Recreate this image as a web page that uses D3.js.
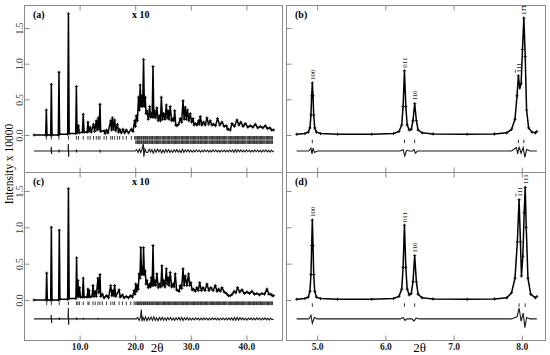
<!DOCTYPE html>
<html lang="en">
<head>
<meta charset="UTF-8" />
<title>Rietveld plots</title>
<script src="https://d3js.org/d3.v7.min.js"></script>
<style>
  body { margin: 0; background: #fff; }
  svg { display: block; font-family: "Liberation Serif", "DejaVu Serif", serif; }
</style>
</head>
<body>
<div id="chart"></div>
<script>
const obsA = [[1.8,0],[3.9,0],[4.02,0.35],[4.14,0],[4.8,0],[4.92,0.71],[5.04,0],[6.17,0],[6.29,0.88],[6.41,0.01],
  [7.85,0.01],[7.99,1.70],[8.13,0.02],[9.3,0.02],[9.42,0.68],[9.55,0.03],[9.8,0.13],[9.95,0.03],[10.5,0.04],[10.66,0.29],
  [10.8,0.04],[11.35,0.04],[11.5,0.18],[11.65,0.05],[11.9,0.11],[12.1,0.04],[12.5,0.15],[12.7,0.05],[13.0,0.20],[13.15,0.07],
  [13.36,0.24],[13.5,0.08],[13.66,0.43],[13.8,0.05],[14.4,0.06],[14.6,0.02],[14.85,0.07],[15.1,0.03],[15.6,0.20],[15.75,0.07],
  [15.9,0.24],[16.1,0.08],[16.3,0.21],[16.5,0.06],[16.8,0.15],[17.0,0.04],[17.2,0.08],[17.5,0.03],[17.8,0.08],[18.1,0.03],
  [18.4,0.07],[18.8,0.03],[19.3,0.08],[19.6,0.05],[19.9,0.20],[20.05,0.12],[20.2,0.27],[20.4,0.2],[20.6,0.53],[20.75,0.35],
  [20.9,0.70],[21.05,0.4],[21.2,0.55],[21.35,0.4],[21.5,1.06],[21.65,0.4],[21.8,0.53],[21.95,0.3],[22.1,0.34],[22.35,0.22],
  [22.6,0.40],[22.75,0.25],[22.9,0.30],[23.05,0.25],[23.2,0.96],[23.35,0.25],[23.5,0.34],[23.7,0.24],[23.9,0.38],[24.15,0.2],
  [24.4,0.27],[24.55,0.2],[24.7,0.53],[24.9,0.22],[25.1,0.30],[25.35,0.22],[25.6,0.42],[25.75,0.24],[25.9,0.34],[26.1,0.22],
  [26.3,0.40],[26.55,0.2],[26.8,0.23],[26.95,0.2],[27.1,0.34],[27.3,0.14],[27.5,0.13],[27.8,0.15],[28.1,0.23],[28.35,0.18],
  [28.6,0.48],[28.8,0.22],[29.0,0.39],[29.2,0.22],[29.4,0.35],[29.65,0.2],[29.9,0.30],[30.15,0.18],[30.4,0.23],[30.6,0.14],
  [30.8,0.16],[31.1,0.14],[31.4,0.20],[31.55,0.15],[31.7,0.26],[32.0,0.14],[32.3,0.18],[32.6,0.14],[32.9,0.24],[33.2,0.15],
  [33.5,0.20],[33.8,0.14],[34.1,0.15],[34.45,0.13],[34.8,0.23],[35.2,0.14],[35.6,0.18],[36.0,0.12],[36.4,0.13],[36.6,0.08],
  [36.8,0.08],[37.1,0.07],[37.4,0.16],[37.85,0.12],[38.3,0.21],[38.65,0.14],[39.0,0.18],[39.4,0.12],[39.8,0.16],[40.25,0.11],
  [40.7,0.13],[41.15,0.11],[41.6,0.15],[42.05,0.10],[42.5,0.12],[42.95,0.10],[43.4,0.13],[43.8,0.09],[44.2,0.10],[44.55,0.07],[44.9,0.07]];

const obsC = [[1.8,0],[3.96,0],[4.08,0.37],[4.2,0],[4.8,0],[4.92,1.00],[5.04,0],[6.23,0],[6.35,0.96],[6.47,0.01],
  [7.85,0.01],[7.99,1.53],[8.13,0.02],[9.34,0.02],[9.46,0.58],[9.58,0.05],[9.7,0.27],[9.82,0.05],[10.0,0.17],[10.15,0.04],
  [10.5,0.04],[10.66,0.30],[10.8,0.04],[11.35,0.04],[11.5,0.15],[11.6,0.05],[11.7,0.13],[11.85,0.04],[12.25,0.05],[12.4,0.20],
  [12.6,0.05],[12.8,0.12],[13.0,0.05],[13.3,0.30],[13.45,0.1],[13.66,0.35],[13.8,0.05],[14.1,0.08],[14.4,0.03],[14.85,0.06],
  [15.2,0.03],[15.6,0.20],[15.8,0.06],[16.0,0.13],[16.15,0.06],[16.3,0.20],[16.5,0.05],[17.1,0.14],[17.3,0.04],[17.7,0.07],
  [18.0,0.03],[18.4,0.05],[18.8,0.03],[19.2,0.06],[19.5,0.04],[19.8,0.13],[19.95,0.08],[20.1,0.22],[20.25,0.12],[20.4,0.20],
  [20.55,0.15],[20.7,0.36],[20.85,0.3],[21.0,0.72],[21.15,0.35],[21.3,0.45],[21.4,0.35],[21.5,0.72],[21.65,0.35],[21.8,0.40],
  [21.95,0.22],[22.1,0.27],[22.35,0.17],[22.6,0.22],[22.75,0.18],[22.9,0.31],[23.05,0.2],[23.2,0.75],[23.35,0.2],[23.5,0.27],
  [23.7,0.2],[23.9,0.36],[24.15,0.17],[24.4,0.22],[24.6,0.18],[24.8,0.47],[24.95,0.2],[25.1,0.27],[25.35,0.18],[25.6,0.43],
  [25.75,0.22],[25.9,0.31],[26.1,0.2],[26.3,0.38],[26.55,0.18],[26.8,0.22],[27.0,0.18],[27.2,0.36],[27.45,0.14],[27.7,0.13],
  [27.9,0.12],[28.1,0.20],[28.35,0.16],[28.6,0.43],[28.8,0.2],[29.0,0.33],[29.3,0.2],[29.6,0.36],[29.8,0.2],[30.0,0.24],
  [30.25,0.14],[30.5,0.15],[30.8,0.12],[31.1,0.17],[31.35,0.13],[31.6,0.24],[31.9,0.13],[32.2,0.17],[32.55,0.13],[32.9,0.22],
  [33.25,0.13],[33.6,0.17],[34.0,0.13],[34.4,0.20],[34.7,0.12],[35.0,0.15],[35.3,0.12],[35.6,0.17],[36.0,0.11],[36.4,0.09],
  [36.75,0.06],[37.1,0.06],[37.45,0.08],[37.8,0.12],[38.1,0.1],[38.4,0.17],[38.8,0.11],[39.2,0.14],[39.65,0.09],[40.1,0.11],
  [40.55,0.09],[41.0,0.12],[41.45,0.08],[41.9,0.09],[42.35,0.07],[42.8,0.09],[43.25,0.08],[43.7,0.15],[44.05,0.08],[44.4,0.08],
  [44.65,0.06],[44.9,0.06]];

const obsB = [[4.70,0.01],[4.82,0.02],[4.87,0.04],[4.895,0.10],[4.91,0.28],[4.92,0.55],[4.93,0.73],[4.94,0.55],[4.95,0.28],
  [4.965,0.10],[4.99,0.04],[5.05,0.02],[5.3,0.01],[5.8,0.01],[6.12,0.02],[6.2,0.05],[6.24,0.14],[6.26,0.40],[6.28,0.90],
  [6.30,0.40],[6.32,0.14],[6.35,0.07],[6.38,0.08],[6.405,0.20],[6.43,0.44],[6.455,0.20],[6.48,0.07],[6.54,0.03],[6.7,0.015],
  [7.2,0.01],[7.6,0.015],[7.78,0.03],[7.85,0.08],[7.9,0.22],[7.93,0.55],[7.95,0.83],[7.97,0.66],[7.99,0.72],[8.01,1.2],
  [8.03,1.64],[8.05,1.1],[8.07,0.35],[8.10,0.10],[8.15,0.04],[8.2,0.03],[8.22,0.05]];

const obsD = [[4.70,0.01],[4.82,0.02],[4.87,0.04],[4.895,0.12],[4.91,0.35],[4.92,0.75],[4.93,1.10],[4.94,0.75],[4.95,0.35],
  [4.965,0.12],[4.99,0.04],[5.05,0.02],[5.3,0.01],[5.8,0.01],[6.12,0.02],[6.2,0.05],[6.24,0.15],[6.26,0.45],[6.28,1.03],
  [6.30,0.45],[6.32,0.15],[6.35,0.07],[6.38,0.09],[6.405,0.25],[6.43,0.61],[6.455,0.25],[6.48,0.08],[6.54,0.03],[6.7,0.015],
  [7.2,0.01],[7.6,0.015],[7.78,0.03],[7.85,0.1],[7.9,0.3],[7.935,0.8],[7.96,1.38],[7.98,0.8],[7.995,0.33],[8.015,0.6],
  [8.035,1.2],[8.05,1.55],[8.065,1.0],[8.09,0.3],[8.13,0.08],[8.2,0.03],[8.22,0.05]];

// ---- difference curves (obs - calc) ----
const diffA = [[1.8,0],[4.86,0],[4.9,0.06],[4.95,-0.04],[5.0,0],[6.24,0],[6.28,0.02],[6.32,-0.02],[6.36,0],[7.93,0],
  [7.97,0.1],[8.02,-0.08],[8.06,0],[9.38,0],[9.42,0.02],[9.46,-0.02],[9.5,0],[13.6,0],[13.66,0.015],[13.72,-0.01],[13.78,0],
  [20.0,0],[20.25,0.02],[20.5,-0.02],[20.75,0.025],[21.0,-0.02],[21.25,0.03],[21.45,0.1],[21.55,-0.08],[21.75,0.03],
  [22.0,-0.02],[22.25,-0.02],[22.5,0.025],[22.75,-0.015],[23.0,0.02],[23.25,-0.03],[23.5,0.02],[23.75,-0.018],[24.0,0.025],
  [24.25,-0.012],[24.5,0.02],[24.75,-0.025],[25.0,0.015],[25.25,-0.02],[25.5,0.022],[25.75,-0.015],[26.0,0.02],[26.25,-0.018],
  [26.5,0.012],[26.75,-0.02],[27.0,0.018],[27.25,-0.012],[27.5,0.02],[27.75,-0.015],[28.0,0.012],[28.25,-0.02],[28.5,0.025],
  [28.75,-0.018],[29.0,0.015],[29.25,-0.012],[29.5,0.018],[29.75,-0.015],[30.0,0.012],[30.25,-0.015],[30.5,0.01],
  [30.75,-0.012],[31.0,0.015],[31.25,-0.01],[31.5,0.012],[31.75,-0.015],[32.0,0.01],[32.25,-0.012],[32.5,0.015],[32.75,-0.01],
  [33.0,0.012],[33.25,-0.015],[33.5,0.01],[33.75,-0.012],[34.0,0.015],[34.25,-0.01],[34.5,0.012],[34.75,-0.012],[35.0,0.01],
  [35.25,-0.015],[35.5,0.012],[35.75,-0.01],[36.0,0.012],[36.25,-0.012],[36.5,0.01],[36.75,-0.012],[37.0,0.015],[37.25,-0.012],
  [37.5,0.015],[37.75,-0.018],[38.0,0.02],[38.25,-0.015],[38.5,0.018],[38.75,-0.012],[39.0,0.015],[39.25,-0.012],[39.5,0.01],
  [39.75,-0.012],[40.0,0.015],[40.25,-0.01],[40.5,0.012],[40.75,-0.015],[41.0,0.01],[41.25,-0.012],[41.5,0.015],[41.75,-0.01],
  [42.0,0.012],[42.25,-0.012],[42.5,0.01],[42.75,-0.015],[43.0,0.012],[43.25,-0.01],[43.5,0.015],[43.75,-0.012],[44.0,0.01],
  [44.25,-0.015],[44.5,0.012],[44.75,-0.01],[44.9,0]];

const diffC = [[1.8,0],[4.86,0],[4.9,0.055],[4.95,-0.055],[5.0,0],[6.3,0],[6.34,0.02],[6.38,-0.015],[6.42,0],[7.93,0],
  [7.97,0.15],[8.02,-0.08],[8.06,0],[9.42,0],[9.46,0.02],[9.5,-0.015],[9.55,0],[10.62,0],[10.66,0.015],[10.7,-0.01],[10.75,0],
  [13.25,0],[13.3,0.015],[13.36,-0.01],[13.4,0],[20.2,0],[20.45,0.02],[20.7,-0.02],[20.95,0.03],[21.1,0.13],[21.2,-0.03],
  [21.4,0.025],[21.6,-0.02],[21.85,0.03],[22.1,-0.025],[22.35,0.02],[22.6,-0.015],[22.85,0.025],[23.1,-0.02],[23.35,0.03],
  [23.6,-0.02],[23.85,0.015],[24.1,-0.025],[24.35,0.02],[24.6,-0.015],[24.85,0.022],[25.1,-0.02],[25.35,0.015],[25.6,-0.02],
  [25.85,0.018],[26.1,-0.012],[26.35,0.02],[26.6,-0.018],[26.85,0.012],[27.1,-0.02],[27.35,0.015],[27.6,-0.012],[27.85,0.018],
  [28.1,-0.015],[28.35,0.02],[28.6,-0.022],[28.85,0.015],[29.1,-0.012],[29.35,0.018],[29.6,-0.015],[29.85,0.012],[30.1,-0.015],
  [30.35,0.01],[30.6,-0.012],[30.85,0.015],[31.1,-0.01],[31.35,0.012],[31.6,-0.015],[31.85,0.01],[32.1,-0.012],[32.35,0.015],
  [32.6,-0.01],[32.85,0.012],[33.1,-0.015],[33.35,0.01],[33.6,-0.012],[33.85,0.015],[34.1,-0.01],[34.35,0.012],[34.6,-0.012],
  [34.85,0.01],[35.1,-0.015],[35.35,0.012],[35.6,-0.01],[35.85,0.012],[36.1,-0.012],[36.35,0.01],[36.6,-0.012],[36.85,0.015],
  [37.1,-0.012],[37.35,0.015],[37.6,-0.018],[37.85,0.02],[38.1,-0.018],[38.35,0.02],[38.6,-0.015],[38.85,0.018],[39.1,-0.012],
  [39.35,0.015],[39.6,-0.012],[39.85,0.01],[40.1,-0.015],[40.35,0.012],[40.6,-0.01],[40.85,0.015],[41.1,-0.012],[41.35,0.01],
  [41.6,-0.012],[41.85,0.015],[42.1,-0.01],[42.35,0.012],[42.6,-0.015],[42.85,0.012],[43.1,-0.01],[43.35,0.015],[43.6,-0.012],
  [43.85,0.01],[44.1,-0.015],[44.35,0.012],[44.6,-0.01],[44.9,0]];

const diffB = [[4.7,0],[4.88,0],[4.91,0.04],[4.925,-0.04],[4.94,0.04],[4.96,-0.02],[5.0,0],[6.22,0],[6.26,0.02],
  [6.285,-0.07],[6.31,0.01],[6.35,0],[6.4,0],[6.42,0.02],[6.44,-0.03],[6.47,0],[7.85,0],[7.92,0.05],[7.94,-0.04],
  [7.96,0.06],[7.99,-0.03],[8.02,0.05],[8.045,-0.09],[8.07,0.02],[8.12,0],[8.22,0]];

const diffD = [[4.7,0],[4.88,0],[4.91,0.05],[4.93,-0.06],[4.96,0.02],[5.0,0],[6.22,0],[6.26,0.02],[6.29,-0.02],[6.32,0],
  [6.39,0],[6.42,-0.03],[6.45,0.01],[6.5,0],[7.85,0],[7.93,0.03],[7.96,0.15],[7.99,-0.03],[8.02,0.08],[8.045,-0.12],
  [8.07,0.02],[8.12,0],[8.22,0]];

// ---- reflection positions (2theta) ----
const reflLowA = [4.02,4.92,6.29,7.99,9.42,9.8,10.66,11.5,11.9,12.5,13.0,13.36,13.66,14.4,14.85,15.6,15.9,16.3,16.8,17.2,17.8,18.4,19.3,19.9];
const reflLowC = [4.08,4.92,6.35,7.99,9.46,9.7,10.0,10.66,11.5,11.7,12.4,12.8,13.3,13.66,14.1,14.85,15.6,16.0,16.3,17.1,17.7,18.4,19.2,19.8];
const reflHigh = [20.1,20.3,20.4,20.6,20.8,20.9,21.1,21.2,21.4,21.5,21.7,21.85,22.0,22.2,22.3,22.5,22.6,22.8,22.9,23.1,23.2,23.4,
  23.55,23.7,23.85,24.0,24.15,24.3,24.45,24.6,24.8,24.95,25.1,25.25,25.4,25.55,25.7,25.85,26.0,26.15,26.3,26.5,26.65,26.8,26.95,
  27.1,27.25,27.4,27.55,27.7,27.85,28.0,28.2,28.35,28.5,28.65,28.8,28.95,29.1,29.25,29.4,29.55,29.7,29.9,30.05,30.2,30.35,30.5,
  30.65,30.8,30.95,31.1,31.25,31.4,31.6,31.75,31.9,32.05,32.2,32.35,32.5,32.65,32.8,32.95,33.1,33.3,33.45,33.6,33.75,33.9,34.05,
  34.2,34.35,34.5,34.65,34.8,35.0,35.15,35.3,35.45,35.6,35.75,35.9,36.05,36.2,36.35,36.5,36.7,36.85,37.0,37.15,37.3,37.45,37.6,
  37.75,37.9,38.05,38.2,38.4,38.55,38.7,38.85,39.0,39.15,39.3,39.45,39.6,39.75,39.9,40.1,40.25,40.4,40.55,40.7,40.85,41.0,41.15,
  41.3,41.45,41.6,41.8,41.95,42.1,42.25,42.4,42.55,42.7,42.85,43.0,43.15,43.3,43.5,43.65,43.8,43.95,44.1,44.25,44.4,44.55,44.7];
const reflB = [4.93,6.28,6.43,7.95,8.03];
const reflD = [4.93,6.28,6.43,7.96,8.05];

// ---- indexed peaks on the right-hand panels ----
const hklLabels = ["100","011","110","111","111"];
const hklBar = [false,false,false,true,false];
const peakPosB = [4.93,6.28,6.43,7.95,8.03];
const peakTopB = [0.73,0.90,0.44,0.83,1.64];
const peakPosD = [4.93,6.28,6.43,7.96,8.05];
const peakTopD = [1.10,1.03,0.61,1.38,1.55];

// ---- axis ticks ----
const yTicks = [0, 0.5, 1.0, 1.5];
const xTicksLeft = [10, 20, 30, 40];
const xTicksRight = [5, 6, 7, 8];

const width = 550, height = 355;
const svg = d3.select("#chart").append("svg").attr("width", width).attr("height", height);

const colLeft = { x0: 24, x1: 282, domain: [0, 46.4], ticks: xTicksLeft };
const colRight = { x0: 286, x1: 545, domain: [4.544, 8.34], ticks: xTicksRight };
const rowTop = { y0: 5, y1: 172, domain: [-0.519, 1.823] };
const rowBot = { y0: 172, y1: 340, domain: [-0.55, 1.761] };

const panels = [
  { tag: "(a)", col: colLeft, row: rowTop, obs: obsA, diff: diffA, diffAt: -0.225,
    refl: [[reflLowA.concat(reflHigh), -0.04], [reflHigh, -0.10]], note: true, yLab: true, xLab: false },
  { tag: "(b)", col: colRight, row: rowTop, obs: obsB, diff: diffB, diffAt: -0.225,
    refl: [[reflB, -0.09]], peaks: [peakPosB, peakTopB], yLab: false, xLab: false },
  { tag: "(c)", col: colLeft, row: rowBot, obs: obsC, diff: diffC, diffAt: -0.26,
    refl: [[reflLowC.concat(reflHigh), -0.045]], note: true, yLab: true, xLab: true },
  { tag: "(d)", col: colRight, row: rowBot, obs: obsD, diff: diffD, diffAt: -0.26,
    refl: [[reflD, -0.07]], peaks: [peakPosD, peakTopD], yLab: false, xLab: true }
];

const frameColor = "#8a8a8a";

panels.forEach(p => {
  const x = d3.scaleLinear().domain(p.col.domain).range([p.col.x0, p.col.x1]);
  const y = d3.scaleLinear().domain(p.row.domain).range([p.row.y1, p.row.y0]);
  const g = svg.append("g");

  g.append("rect")
    .attr("x", p.col.x0 + 0.5).attr("y", p.row.y0 + 0.5)
    .attr("width", p.col.x1 - p.col.x0).attr("height", p.row.y1 - p.row.y0)
    .attr("fill", "none").attr("stroke", frameColor);

  // y axis, ticks pointing inward
  const ya = g.append("g").attr("transform", `translate(${p.col.x0 + 0.5},0)`)
    .call(d3.axisLeft(y).tickValues(yTicks).tickSize(-5)
      .tickFormat(p.yLab ? d3.format(".1f") : ""));
  ya.select(".domain").remove();
  ya.selectAll("line").attr("stroke", frameColor);
  ya.selectAll("text")
    .attr("transform", "rotate(-90)")
    .attr("x", 0).attr("y", -2).attr("dy", 0)
    .attr("text-anchor", "middle")
    .style("font-family", "Liberation Serif").style("font-size", "9.5px").attr("fill", "#444");

  // x axes top and bottom
  const xt = g.append("g").attr("transform", `translate(0,${p.row.y0 + 0.5})`)
    .call(d3.axisTop(x).tickValues(p.col.ticks).tickSize(-5).tickFormat(""));
  xt.select(".domain").remove();
  xt.selectAll("line").attr("stroke", frameColor);

  const xb = g.append("g").attr("transform", `translate(0,${p.row.y1 + 0.5})`)
    .call(d3.axisBottom(x).tickValues(p.col.ticks).tickSize(-5)
      .tickFormat(p.xLab ? d3.format(".1f") : ""));
  xb.select(".domain").remove();
  xb.selectAll("line").attr("stroke", frameColor);
  xb.selectAll("text").attr("y", 3).attr("dy", "0.71em")
    .style("font-family", "Liberation Serif").style("font-size", "9.5px")
    .style("font-weight", "bold").attr("fill", "#222");

  // reflection markers
  p.refl.forEach(([pos, at]) => {
    g.append("g").selectAll("line").data(pos).join("line")
      .attr("x1", d => x(d)).attr("x2", d => x(d))
      .attr("y1", y(at) - 1.8).attr("y2", y(at) + 1.8)
      .attr("stroke", "#222").attr("stroke-width", 0.9);
  });

  // difference curve
  g.append("path").datum(p.diff)
    .attr("fill", "none").attr("stroke", "#1a1a1a").attr("stroke-width", 1.1)
    .attr("d", d3.line().x(d => x(d[0])).y(d => y(p.diffAt + d[1])));

  // calculated / observed profile
  g.append("path").datum(p.obs)
    .attr("fill", "none").attr("stroke", "#000").attr("stroke-width", 1.5)
    .attr("stroke-linejoin", "round")
    .attr("d", d3.line().x(d => x(d[0])).y(d => y(d[1])));

  g.append("path")
    .attr("d", p.obs.map(d => {
      const px = x(d[0]), py = y(d[1]);
      return `M${px - 1.6},${py}h3.2M${px},${py - 1.6}v3.2`;
    }).join(""))
    .attr("stroke", "#000").attr("stroke-width", 0.8).attr("fill", "none");

  // panel tag and scale note
  g.append("text").attr("x", p.col.x0 + 9).attr("y", p.row.y0 + 13)
    .style("font-size", "10px").style("font-weight", "bold").text(p.tag);
  if (p.note) {
    g.append("text").attr("x", p.col.x0 + 108).attr("y", p.row.y0 + 13)
      .style("font-size", "10px").style("font-weight", "bold").text("x 10");
  }

  // hkl labels on the right-hand panels
  if (p.peaks) {
    const [pos, top] = p.peaks;
    const lab = g.append("g").selectAll("text").data(hklLabels).join("text")
      .attr("transform", (d, i) => `translate(${x(pos[i]) + 2.5},${y(top[i]) - 3}) rotate(-90)`)
      .style("font-size", "7px").attr("fill", "#222");
    lab.each(function (d, i) {
      const t = d3.select(this);
      if (hklBar[i]) {
        t.append("tspan").style("text-decoration", "overline").text(d[0]);
        t.append("tspan").text(d.slice(1));
      } else {
        t.text(d);
      }
    });
  }
});

// shared axis titles
svg.append("text")
  .attr("transform", "translate(13,164) rotate(-90)")
  .attr("text-anchor", "middle")
  .style("font-size", "11.5px")
  .text("Intensity x 10000");

[colLeft, colRight].forEach(c => {
  svg.append("text")
    .attr("x", (c.x0 + c.x1) / 2 + 4).attr("y", 352)
    .attr("text-anchor", "middle")
    .style("font-size", "13px")
    .text("2θ");
});
</script>
</body>
</html>
